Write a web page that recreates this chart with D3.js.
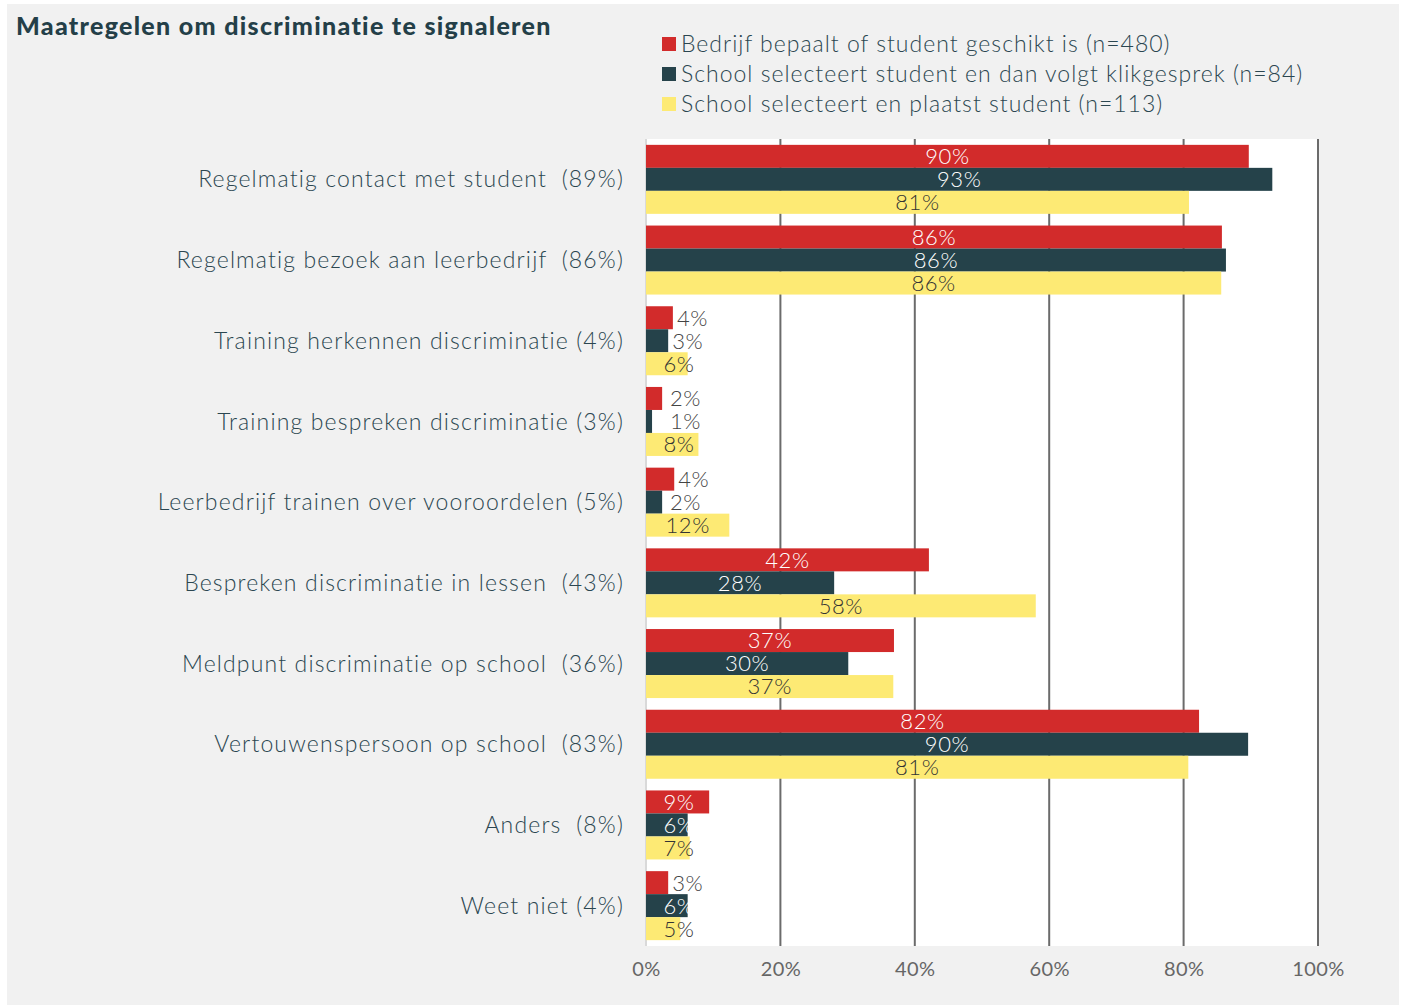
<!DOCTYPE html>
<html>
<head>
<meta charset="utf-8">
<script src="https://cdn.jsdelivr.net/npm/d3@7"></script>
<style>
  body { margin: 0; background: #fff; }
  text { font-family: Lato, "Open Sans", sans-serif; }
</style>
</head>
<body>
<div id="chart"></div>
<script>
// categories + overall share
var Categories = [
  "Regelmatig contact met student  (89%)",
  "Regelmatig bezoek aan leerbedrijf  (86%)",
  "Training herkennen discriminatie (4%)",
  "Training bespreken discriminatie (3%)",
  "Leerbedrijf trainen over vooroordelen (5%)",
  "Bespreken discriminatie in lessen  (43%)",
  "Meldpunt discriminatie op school  (36%)",
  "Vertouwenspersoon op school  (83%)",
  "Anders  (8%)",
  "Weet niet (4%)"
];
var SeriesNames = [
  "Bedrijf bepaalt of student geschikt is (n=480)",
  "School selecteert student en dan volgt klikgesprek (n=84)",
  "School selecteert en plaatst student (n=113)"
];
var Bedrijf   = [89.7, 85.7, 4.0, 2.4, 4.2, 42.1, 36.9, 82.3, 9.4, 3.3];
var Klik      = [93.2, 86.3, 3.3, 0.9, 2.4, 28.0, 30.1, 89.6, 6.2, 6.2];
var Plaatsing = [80.8, 85.6, 6.2, 7.8, 12.4, 58.0, 36.8, 80.7, 6.5, 5.1];
var Ticks = [0, 20, 40, 60, 80, 100];

var Colors = ["#d22b2b", "#25424a", "#fdea74"];
var InsideText = ["#ffffff", "#ffffff", "#333333"];

var W = 1402, H = 1006;
var plot = { left: 646, right: 1318, top: 139, bottom: 946 };

var svg = d3.select("#chart").append("svg")
    .attr("width", W).attr("height", H);

// background panel
svg.append("rect").attr("x", 7).attr("y", 4).attr("width", 1392).attr("height", 1001)
    .attr("fill", "#f1f1f1");
svg.append("rect").attr("x", plot.left).attr("y", plot.top)
    .attr("width", plot.right - plot.left).attr("height", plot.bottom - plot.top)
    .attr("fill", "#fff");

svg.append("text").attr("x", 16).attr("y", 35)
    .attr("font-size", 25).attr("font-weight", 900).attr("fill", "#243f48")
    .attr("letter-spacing", 1.3)
    .text("Maatregelen om discriminatie te signaleren");

var xScale = d3.scaleLinear().domain([0, 100]).range([plot.left, plot.right]);
var yScale = d3.scaleBand().domain(Categories).range([plot.top, plot.bottom])
    .paddingInner(0.145).paddingOuter(0.0725);
var sub = d3.scaleBand().domain([0, 1, 2]).range([0, yScale.bandwidth()]);

// gridlines
svg.append("g").selectAll("line").data(Ticks).join("line")
    .attr("x1", function(d){ return xScale(d); }).attr("x2", function(d){ return xScale(d); })
    .attr("y1", plot.top).attr("y2", plot.bottom)
    .attr("stroke", function(d){ return d == 0 ? "#d9d9d9" : "#6b6b6b"; })
    .attr("stroke-width", 2);

var xAxis = svg.append("g").attr("transform", "translate(0," + plot.bottom + ")")
    .call(d3.axisBottom(xScale).tickValues(Ticks).tickSize(0).tickPadding(16)
          .tickFormat(function(d){ return d + "%"; }));
xAxis.select(".domain").remove();
xAxis.selectAll("text").attr("font-size", 20).attr("fill", "#666")
    .attr("letter-spacing", 0.4)
    .style("font-family", "Lato, sans-serif");

// category labels
svg.append("g").selectAll("text").data(Categories).join("text")
    .attr("x", 624)
    .attr("y", function(d){ return yScale(d) + yScale.bandwidth() / 2; })
    .attr("dy", "0.35em").attr("text-anchor", "end")
    .attr("font-size", 23).attr("font-weight", 300).attr("fill", "#2b4650")
    .attr("letter-spacing", 1.15)
    .style("white-space", "pre")
    .text(function(d){ return d; });

var allSeries = [Bedrijf, Klik, Plaatsing];
var fmt = d3.format(".0f");

allSeries.forEach(function(values, s) {
  var rows = Categories.map(function(c, i){ return { cat: c, v: values[i] }; });
  var g = svg.append("g");
  g.selectAll("rect").data(rows).join("rect")
      .attr("x", xScale(0))
      .attr("y", function(d){ return yScale(d.cat) + sub(s); })
      .attr("width", function(d){ return xScale(d.v) - xScale(0); })
      .attr("height", sub.bandwidth())
      .attr("fill", Colors[s]);

  g.selectAll("text").data(rows).join("text")
      .attr("y", function(d){ return yScale(d.cat) + sub(s) + sub.bandwidth() / 2; })
      .attr("dy", "0.36em")
      .attr("font-size", 22).attr("font-weight", 300).attr("letter-spacing", 0.6)
      .each(function(d) {
        var t = d3.select(this);
        var end = xScale(d.v);
        if (d.v < 5) {
          t.attr("x", Math.max(end + 4, 670)).attr("text-anchor", "start").attr("fill", "#444");
        } else {
          t.attr("x", Math.max((xScale(0) + end) / 2, 679)).attr("text-anchor", "middle")
           .attr("fill", InsideText[s]);
        }
      })
      .text(function(d){ return fmt(d.v) + "%"; });
});

// legend
var legend = svg.append("g").selectAll("g").data(SeriesNames).join("g")
    .attr("transform", function(d, i){ return "translate(662," + (44 + i * 30) + ")"; });
legend.append("rect").attr("x", 0).attr("y", -7).attr("width", 14).attr("height", 14)
    .attr("fill", function(d, i){ return Colors[i]; });
legend.append("text").attr("x", 19).attr("dy", "0.35em")
    .attr("font-size", 23).attr("font-weight", 300).attr("fill", "#2b4650")
    .attr("letter-spacing", 1.0)
    .text(function(d){ return d; });
</script>
</body>
</html>
